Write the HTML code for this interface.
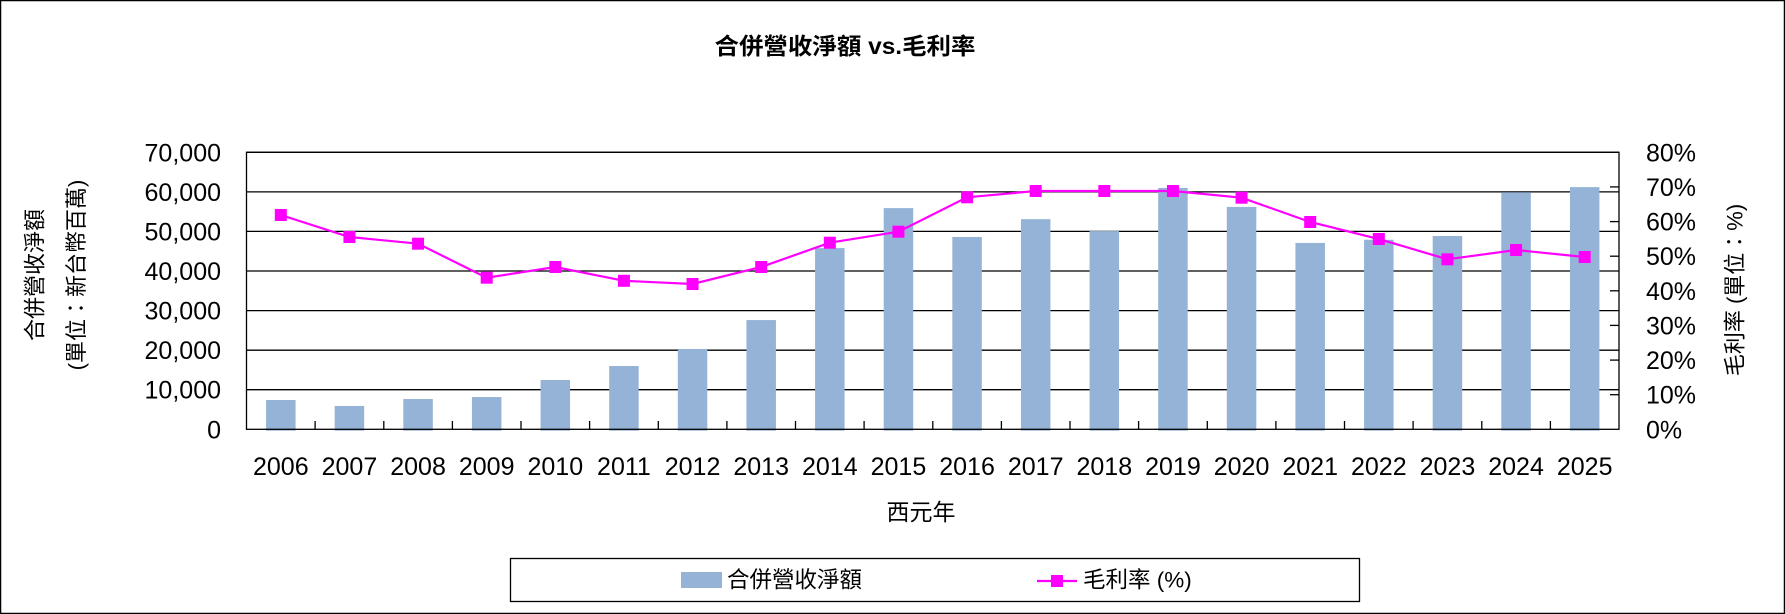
<!DOCTYPE html>
<html><head><meta charset="utf-8"><style>
html,body{margin:0;padding:0;background:#fff;}
svg{display:block;}
text{font-family:"Liberation Sans","Noto Sans CJK TC",sans-serif;fill:#000;}
</style></head><body>
<svg width="1785" height="614" viewBox="0 0 1785 614" xmlns="http://www.w3.org/2000/svg">
<rect x="0.5" y="0.5" width="1784" height="613" fill="#fff" stroke="#000" stroke-width="1.5"/>
<text x="845" y="54" font-size="23" font-weight="bold" text-anchor="middle" textLength="261" lengthAdjust="spacingAndGlyphs">合併營收淨額 vs.毛利率</text>
<g stroke="#000" stroke-width="1.3">
<line x1="246.5" y1="152.3" x2="1619" y2="152.3"/>
<line x1="246.5" y1="191.9" x2="1619" y2="191.9"/>
<line x1="246.5" y1="231.4" x2="1619" y2="231.4"/>
<line x1="246.5" y1="271" x2="1619" y2="271"/>
<line x1="246.5" y1="310.6" x2="1619" y2="310.6"/>
<line x1="246.5" y1="350.2" x2="1619" y2="350.2"/>
<line x1="246.5" y1="389.7" x2="1619" y2="389.7"/>
</g>
<g fill="#95B3D7">
<rect x="266.06" y="400.0" width="29.5" height="30.7"/>
<rect x="334.69" y="405.95" width="29.5" height="24.75"/>
<rect x="403.31" y="399.03" width="29.5" height="31.67"/>
<rect x="471.94" y="397.05" width="29.5" height="33.65"/>
<rect x="540.56" y="380.03" width="29.5" height="50.67"/>
<rect x="609.19" y="365.99" width="29.5" height="64.71"/>
<rect x="677.81" y="348.97" width="29.5" height="81.73"/>
<rect x="746.44" y="320.08" width="29.5" height="110.62"/>
<rect x="815.06" y="248.07" width="29.5" height="182.63"/>
<rect x="883.69" y="208.1" width="29.5" height="222.6"/>
<rect x="952.31" y="236.99" width="29.5" height="193.71"/>
<rect x="1020.94" y="219.18" width="29.5" height="211.52"/>
<rect x="1089.56" y="231.05" width="29.5" height="199.65"/>
<rect x="1158.19" y="187.92" width="29.5" height="242.78"/>
<rect x="1226.81" y="206.92" width="29.5" height="223.78"/>
<rect x="1295.44" y="242.93" width="29.5" height="187.77"/>
<rect x="1364.06" y="239.76" width="29.5" height="190.94"/>
<rect x="1432.69" y="236.0" width="29.5" height="194.7"/>
<rect x="1501.31" y="192.27" width="29.5" height="238.43"/>
<rect x="1569.94" y="187.13" width="29.5" height="243.57"/>
</g>
<rect x="246.5" y="152.3" width="1372.5" height="277" fill="none" stroke="#000" stroke-width="1.3"/>
<g stroke="#000" stroke-width="1.3">
<line x1="315.1" y1="421" x2="315.1" y2="429.3"/>
<line x1="383.8" y1="421" x2="383.8" y2="429.3"/>
<line x1="452.4" y1="421" x2="452.4" y2="429.3"/>
<line x1="521" y1="421" x2="521" y2="429.3"/>
<line x1="589.6" y1="421" x2="589.6" y2="429.3"/>
<line x1="658.3" y1="421" x2="658.3" y2="429.3"/>
<line x1="726.9" y1="421" x2="726.9" y2="429.3"/>
<line x1="795.5" y1="421" x2="795.5" y2="429.3"/>
<line x1="864.1" y1="421" x2="864.1" y2="429.3"/>
<line x1="932.8" y1="421" x2="932.8" y2="429.3"/>
<line x1="1001.4" y1="421" x2="1001.4" y2="429.3"/>
<line x1="1070" y1="421" x2="1070" y2="429.3"/>
<line x1="1138.6" y1="421" x2="1138.6" y2="429.3"/>
<line x1="1207.3" y1="421" x2="1207.3" y2="429.3"/>
<line x1="1275.9" y1="421" x2="1275.9" y2="429.3"/>
<line x1="1344.5" y1="421" x2="1344.5" y2="429.3"/>
<line x1="1413.1" y1="421" x2="1413.1" y2="429.3"/>
<line x1="1481.8" y1="421" x2="1481.8" y2="429.3"/>
<line x1="1550.4" y1="421" x2="1550.4" y2="429.3"/>
<line x1="1610" y1="394.7" x2="1619" y2="394.7"/>
<line x1="1610" y1="360.1" x2="1619" y2="360.1"/>
<line x1="1610" y1="325.4" x2="1619" y2="325.4"/>
<line x1="1610" y1="290.8" x2="1619" y2="290.8"/>
<line x1="1610" y1="256.2" x2="1619" y2="256.2"/>
<line x1="1610" y1="221.6" x2="1619" y2="221.6"/>
<line x1="1610" y1="186.9" x2="1619" y2="186.9"/>
</g>
<polyline fill="none" stroke="#FF00FF" stroke-width="2.2" points="280.81,215 349.44,237 418.06,243.7 486.69,277.7 555.31,267 623.94,280.8 692.56,284 761.19,267 829.81,242.7 898.44,231.7 967.06,197.3 1035.69,191 1104.31,191 1172.94,191 1241.56,197.7 1310.19,222 1378.81,239 1447.44,259.3 1516.06,250 1584.69,257"/>
<g fill="#FF00FF">
<rect x="274.81" y="209" width="12" height="12"/>
<rect x="343.44" y="231" width="12" height="12"/>
<rect x="412.06" y="237.7" width="12" height="12"/>
<rect x="480.69" y="271.7" width="12" height="12"/>
<rect x="549.31" y="261" width="12" height="12"/>
<rect x="617.94" y="274.8" width="12" height="12"/>
<rect x="686.56" y="278" width="12" height="12"/>
<rect x="755.19" y="261" width="12" height="12"/>
<rect x="823.81" y="236.7" width="12" height="12"/>
<rect x="892.44" y="225.7" width="12" height="12"/>
<rect x="961.06" y="191.3" width="12" height="12"/>
<rect x="1029.69" y="185" width="12" height="12"/>
<rect x="1098.31" y="185" width="12" height="12"/>
<rect x="1166.94" y="185" width="12" height="12"/>
<rect x="1235.56" y="191.7" width="12" height="12"/>
<rect x="1304.19" y="216" width="12" height="12"/>
<rect x="1372.81" y="233" width="12" height="12"/>
<rect x="1441.44" y="253.3" width="12" height="12"/>
<rect x="1510.06" y="244" width="12" height="12"/>
<rect x="1578.69" y="251" width="12" height="12"/>
</g>
<g font-size="25" text-anchor="end">
<text x="221" y="161.3">70,000</text>
<text x="221" y="200.9">60,000</text>
<text x="221" y="240.4">50,000</text>
<text x="221" y="280">40,000</text>
<text x="221" y="319.6">30,000</text>
<text x="221" y="359.2">20,000</text>
<text x="221" y="398.7">10,000</text>
<text x="221" y="438.3">0</text>
</g>
<g font-size="25" text-anchor="start">
<text x="1646" y="161.3">80%</text>
<text x="1646" y="195.9">70%</text>
<text x="1646" y="230.6">60%</text>
<text x="1646" y="265.2">50%</text>
<text x="1646" y="299.8">40%</text>
<text x="1646" y="334.4">30%</text>
<text x="1646" y="369.1">20%</text>
<text x="1646" y="403.7">10%</text>
<text x="1646" y="438.3">0%</text>
</g>
<g font-size="25" text-anchor="middle">
<text x="280.81" y="475">2006</text>
<text x="349.44" y="475">2007</text>
<text x="418.06" y="475">2008</text>
<text x="486.69" y="475">2009</text>
<text x="555.31" y="475">2010</text>
<text x="623.94" y="475">2011</text>
<text x="692.56" y="475">2012</text>
<text x="761.19" y="475">2013</text>
<text x="829.81" y="475">2014</text>
<text x="898.44" y="475">2015</text>
<text x="967.06" y="475">2016</text>
<text x="1035.69" y="475">2017</text>
<text x="1104.31" y="475">2018</text>
<text x="1172.94" y="475">2019</text>
<text x="1241.56" y="475">2020</text>
<text x="1310.19" y="475">2021</text>
<text x="1378.81" y="475">2022</text>
<text x="1447.44" y="475">2023</text>
<text x="1516.06" y="475">2024</text>
<text x="1584.69" y="475">2025</text>
</g>
<text x="921" y="512" font-size="23" text-anchor="middle" dominant-baseline="central">西元年</text>
<text transform="translate(35,275) rotate(-90)" font-size="22" text-anchor="middle" dominant-baseline="central">合併營收淨額</text>
<text transform="translate(76.5,275) rotate(-90)" font-size="22" text-anchor="middle" dominant-baseline="central">(單位：新台幣百萬)</text>
<text transform="translate(1735,290) rotate(-90)" font-size="22" text-anchor="middle" dominant-baseline="central">毛利率 (單位：%)</text>
<rect x="510.5" y="558.5" width="849" height="43" fill="#fff" stroke="#000" stroke-width="1.3"/>
<rect x="681" y="572" width="41" height="16" fill="#95B3D7"/>
<text x="727" y="580" font-size="22.5" dominant-baseline="central">合併營收淨額</text>
<line x1="1037" y1="581" x2="1077" y2="581" stroke="#FF00FF" stroke-width="2.2"/>
<rect x="1051" y="575" width="12" height="12" fill="#FF00FF"/>
<text x="1083" y="580" font-size="22.5" dominant-baseline="central">毛利率 (%)</text>
</svg>
</body></html>
